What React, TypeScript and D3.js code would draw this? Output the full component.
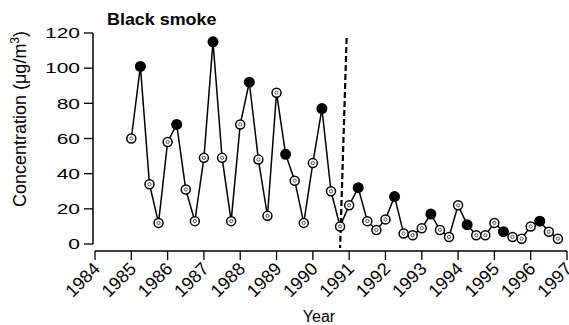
import React from 'react';
import * as d3 from 'd3';

const width = 569;
const height = 325;

// quarterly readings, 1985 Q1 .. 1996 Q4
const dates = [
  1985, 1985.25, 1985.5, 1985.75, 1986, 1986.25, 1986.5, 1986.75,
  1987, 1987.25, 1987.5, 1987.75, 1988, 1988.25, 1988.5, 1988.75,
  1989, 1989.25, 1989.5, 1989.75, 1990, 1990.25, 1990.5, 1990.75,
  1991, 1991.25, 1991.5, 1991.75, 1992, 1992.25, 1992.5, 1992.75,
  1993, 1993.25, 1993.5, 1993.75, 1994, 1994.25, 1994.5, 1994.75,
  1995, 1995.25, 1995.5, 1995.75, 1996, 1996.25, 1996.5, 1996.75,
];
const smoke = [
  60, 101, 34, 12, 58, 68, 31, 13,
  49, 115, 49, 13, 68, 92, 48, 16,
  86, 51, 36, 12, 46, 77, 30, 10,
  22, 32, 13, 8, 14, 27, 6, 5,
  9, 17, 8, 4, 22, 11, 5, 5,
  12, 7, 4, 3, 10, 13, 7, 3,
];
// winter quarters drawn as solid dots
const solidDates = [1985.25, 1986.25, 1987.25, 1988.25, 1989.25, 1990.25, 1991.25, 1992.25, 1993.25, 1994.25, 1995.25, 1996.25];

const yearTicks = d3.range(1984, 1998);
const concTicks = [0, 20, 40, 60, 80, 100, 120];
const cutoff = [1990.93, 1990.75]; // dashed line top / bottom

const font = 'Liberation Sans, Arial, sans-serif';

const App = () => {
  const x = d3.scaleLinear().domain([1984, 1997]).range([95, 567]);
  const y = d3.scaleLinear().domain([0, 120]).range([244, 33]);
  const points = dates.map((d, i) => ({ d, v: smoke[i], solid: solidDates.includes(d) }));
  const line = d3.line<{ d: number; v: number }>().x((p) => x(p.d)).y((p) => y(p.v));
  const axisY = 251;

  return (
    <svg width={width} height={height} style={{ position: 'absolute', left: 0, top: 0, background: '#fff' }} fontFamily={font}>
      {/* y axis */}
      <line x1={93} x2={93} y1={y(120)} y2={y(0)} stroke="#000" strokeWidth={1.5} />
      {concTicks.map((t) => (
        <g key={t}>
          <line x1={84} x2={93} y1={y(t)} y2={y(t)} stroke="#000" strokeWidth={1.3} />
          <text transform={`translate(80, ${y(t)}) scale(1.4, 1)`} dy="0.35em" textAnchor="end" fontSize={15}>{t}</text>
        </g>
      ))}
      <text transform={`translate(26, 119) rotate(-90)`} textAnchor="middle" fontSize={18}>
        Concentration (μg/m<tspan dy={-7} fontSize={12}>3</tspan><tspan dy={7}>)</tspan>
      </text>

      {/* x axis */}
      <line x1={x(1984)} x2={x(1997)} y1={axisY} y2={axisY} stroke="#000" strokeWidth={1.5} />
      {yearTicks.map((t) => (
        <g key={t}>
          <line x1={x(t)} x2={x(t)} y1={axisY} y2={axisY + 9} stroke="#000" strokeWidth={1.3} />
          <text transform={`translate(${x(t) + 6}, ${axisY + 19}) rotate(-45)`} textAnchor="end" fontSize={18}>{t}</text>
        </g>
      ))}
      <text x={319} y={322} textAnchor="middle" fontSize={16}>Year</text>

      <text transform="translate(107, 25) scale(1.12, 1)" fontSize={16} fontWeight="bold">Black smoke</text>

      {/* cut-over */}
      <line x1={x(cutoff[0])} x2={x(cutoff[1])} y1={38} y2={248} stroke="#000" strokeWidth={2.2} strokeDasharray="6,3" />

      <path d={line(points) ?? ''} fill="none" stroke="#000" strokeWidth={1.5} />
      {points.map((p) =>
        p.solid ? (
          <circle key={p.d} cx={x(p.d)} cy={y(p.v)} r={5.5} fill="#000" />
        ) : (
          <g key={p.d}>
            <circle cx={x(p.d)} cy={y(p.v)} r={4.5} fill="#fff" stroke="#000" strokeWidth={1.5} />
            <circle cx={x(p.d)} cy={y(p.v)} r={1.6} fill="none" stroke="#555" strokeWidth={1} />
          </g>
        )
      )}
    </svg>
  );
};

export default App;
